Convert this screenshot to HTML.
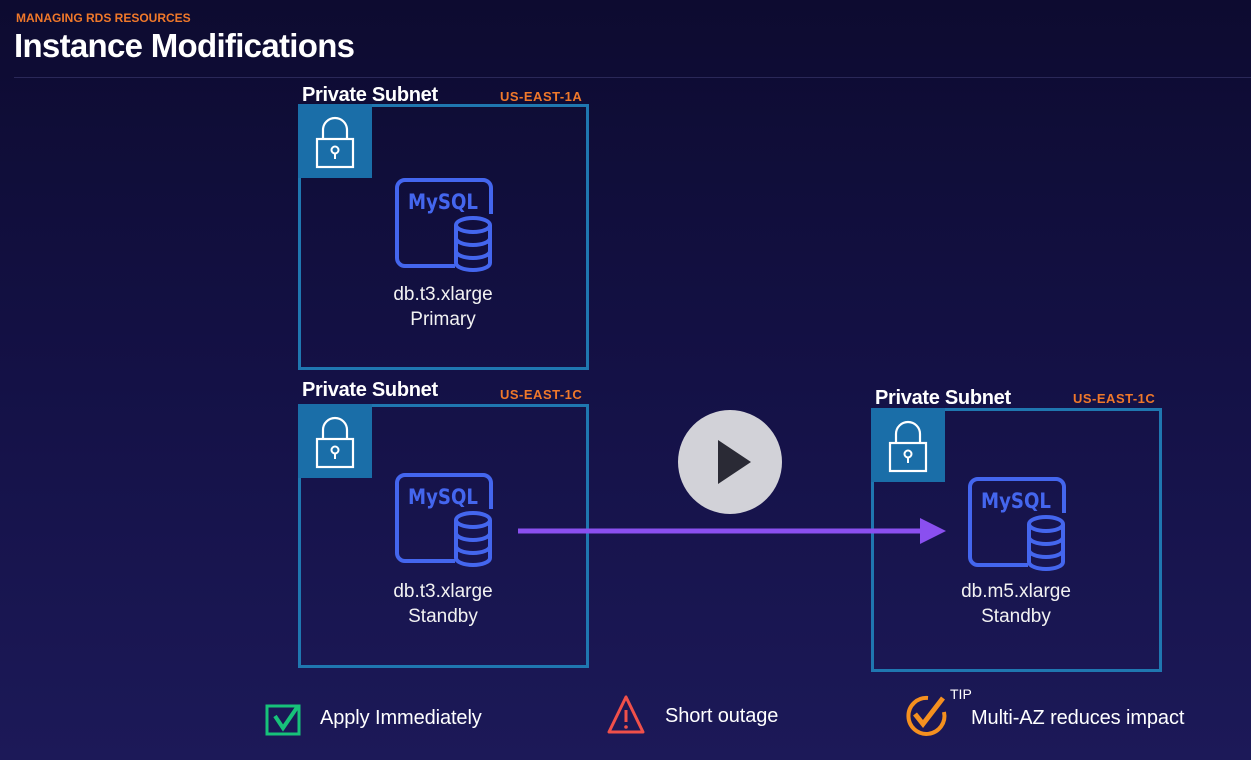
<!DOCTYPE html>
<html><head><meta charset="utf-8"><style>
*{margin:0;padding:0;box-sizing:border-box}
body{width:1251px;height:760px;overflow:hidden;background:linear-gradient(180deg,#0d0b30 0%,#141146 50%,#1c1958 100%);font-family:"Liberation Sans",sans-serif;position:relative;color:#fff}
.abs{position:absolute}
.box{position:absolute;border:3px solid #1f77b0}
.lock{position:absolute;left:-3px;top:-3px;width:74px;height:74px;background:#1a6ea8}
.lbl{position:absolute;font-weight:bold;font-size:20px;letter-spacing:-0.3px}
.az{position:absolute;font-weight:bold;font-size:13px;color:#f0782a;letter-spacing:0.5px}
.txt{position:absolute;width:200px;text-align:center;font-size:19px;line-height:25px;color:#f2f2f2}
.bt{position:absolute;font-size:20px;letter-spacing:-0.1px}
</style></head><body>
<div class="abs" style="left:16px;top:11px;font-size:12px;font-weight:bold;color:#f0782a">MANAGING RDS RESOURCES</div>
<div class="abs" style="left:14px;top:27px;font-size:33px;font-weight:bold;letter-spacing:-0.7px">Instance Modifications</div>
<div class="abs" style="left:14px;top:77px;width:1237px;height:1px;background:#2a2858"></div>

<svg width="0" height="0" style="position:absolute"><defs>
<g id="lk"><rect x="19" y="35" width="36" height="28" fill="none" stroke="#fff" stroke-width="2.2"/><path d="M25 35v-9a12 12 0 0 1 24 0v9" fill="none" stroke="#fff" stroke-width="2.2"/><circle cx="37" cy="46" r="3.5" fill="none" stroke="#fff" stroke-width="2"/><line x1="37" y1="49.5" x2="37" y2="55" stroke="#fff" stroke-width="2"/></g>
<g id="my"><path d="M60 88H10a8 8 0 0 1-8-8V10a8 8 0 0 1 8-8h78a8 8 0 0 1 8 8v26" fill="none" stroke="#4466ee" stroke-width="4"/><text x="48" y="31" text-anchor="middle" font-family="DejaVu Sans,sans-serif" font-weight="bold" font-size="21" fill="#4466ee" textLength="70" lengthAdjust="spacingAndGlyphs">MySQL</text>
<g fill="none" stroke="#4466ee" stroke-width="4"><ellipse cx="78" cy="47" rx="17" ry="7"/><path d="M61 47v38a17 7 0 0 0 34 0V47M61 60a17 7 0 0 0 34 0M61 73a17 7 0 0 0 34 0"/></g></g>
</defs></svg>

<div class="lbl" style="left:302px;top:84px">Private Subnet</div><div class="az" style="left:500px;top:89px">US-EAST-1A</div>
<div class="box" style="left:298px;top:104px;width:291px;height:266px"><div class="lock"><svg width="74" height="74"><use href="#lk"/></svg></div>
<svg class="abs" style="left:94px;top:71px" width="100" height="96"><use href="#my"/></svg>
<div class="txt" style="left:42px;top:175px">db.t3.xlarge<br>Primary</div></div>

<div class="lbl" style="left:302px;top:379px">Private Subnet</div><div class="az" style="left:500px;top:387px">US-EAST-1C</div>
<div class="box" style="left:298px;top:404px;width:291px;height:264px"><div class="lock"><svg width="74" height="74"><use href="#lk"/></svg></div>
<svg class="abs" style="left:94px;top:66px" width="100" height="96"><use href="#my"/></svg>
<div class="txt" style="left:42px;top:172px">db.t3.xlarge<br>Standby</div></div>

<div class="lbl" style="left:875px;top:387px">Private Subnet</div><div class="az" style="left:1073px;top:391px">US-EAST-1C</div>
<div class="box" style="left:871px;top:408px;width:291px;height:264px"><div class="lock"><svg width="74" height="74"><use href="#lk"/></svg></div>
<svg class="abs" style="left:94px;top:66px" width="100" height="96"><use href="#my"/></svg>
<div class="txt" style="left:42px;top:168px">db.m5.xlarge<br>Standby</div></div>

<svg class="abs" style="left:0;top:0" width="1251" height="760">
<line x1="518" y1="531" x2="925" y2="531" stroke="#8a4ff0" stroke-width="5"/>
<polygon points="920,518 946,531 920,544" fill="#8a4ff0"/>
<circle cx="730" cy="462" r="52" fill="#d2d2d8"/>
<polygon points="718,440 718,484 751,462" fill="#2a2a35"/>
<rect x="267" y="706" width="32" height="28" fill="none" stroke="#17c27a" stroke-width="3"/>
<path d="M275 716l8 12l15-22" fill="none" stroke="#17c27a" stroke-width="4"/>
<path d="M626 697l-17 35h34z" fill="none" stroke="#f0504a" stroke-width="3" stroke-linejoin="round"/>
<line x1="626" y1="710" x2="626" y2="722" stroke="#f0504a" stroke-width="3"/><circle cx="626" cy="727" r="1.8" fill="#f0504a"/>
<path d="M928 698a18 18 0 1 0 16 14" fill="none" stroke="#f5901f" stroke-width="4"/>
<path d="M915 714l8 10l20-26" fill="none" stroke="#f5901f" stroke-width="5"/>
</svg>
<div class="bt" style="left:320px;top:707px">Apply Immediately</div>
<div class="bt" style="left:665px;top:705px">Short outage</div>
<div class="abs" style="left:950px;top:686px;font-size:14px">TIP</div>
<div class="bt" style="left:971px;top:707px">Multi-AZ reduces impact</div>
</body></html>
